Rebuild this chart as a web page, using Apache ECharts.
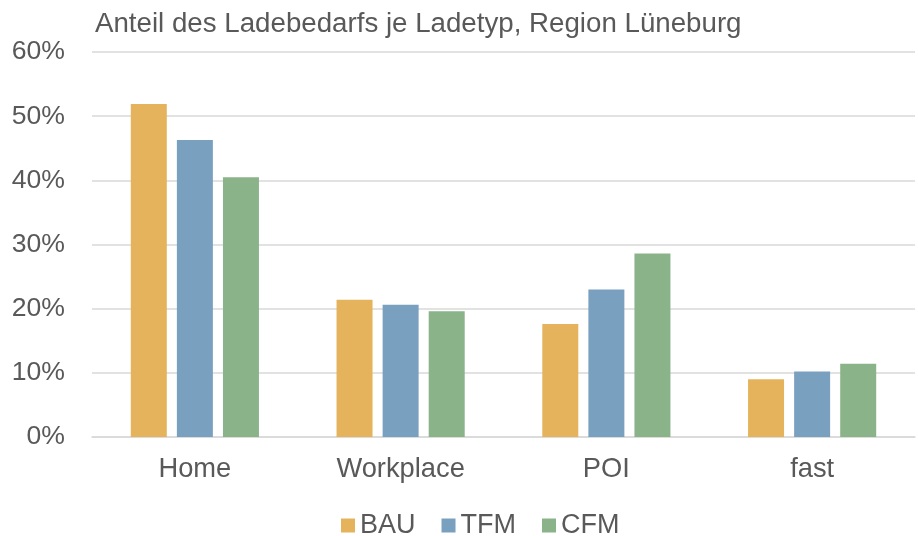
<!DOCTYPE html>
<html lang="de">
<head>
    <meta charset="UTF-8">
    <title>Ladebedarf</title>
    <script src="https://cdn.jsdelivr.net/npm/echarts@6/dist/echarts.min.js"></script>
    <style>
        html, body { margin: 0; padding: 0; background: #fff; }
        #chart { width: 918px; height: 536px; }
    </style>
</head>
<body>
<div id="chart"></div>
<script>
    // Daten (Anteile in %)
    var categories = ['Home', 'Workplace', 'POI', 'fast'];
    var bau = [51.9, 21.4, 17.6, 9.0];
    var tfm = [46.3, 20.6, 23.0, 10.2];
    var cfm = [40.5, 19.6, 28.6, 11.4];

    var textColor = '#595959';
    var font = 'Liberation Sans, Arial, sans-serif';

    var chart = echarts.init(document.getElementById('chart'));
    var option = {
        animation: false,
        color: ['#E5B35C', '#7AA0C0', '#8BB38A'],
        title: {
            text: 'Anteil des Ladebedarfs je Ladetyp, Region Lüneburg',
            left: 90,
            top: 5,
            textStyle: { color: textColor, fontSize: 27.7, fontWeight: 'normal', fontFamily: font }
        },
        legend: {
            top: 507,
            left: 336,
            itemWidth: 14,
            itemHeight: 14,
            itemGap: 26,
            icon: 'rect',
            textStyle: { color: textColor, fontSize: 27, fontFamily: font },
            data: ['BAU', 'TFM', 'CFM']
        },
        grid: { left: 92, right: 3, top: 52, bottom: 99 },
        xAxis: {
            type: 'category',
            data: categories,
            axisLine: { lineStyle: { color: '#d9d9d9', width: 1.5 } },
            axisTick: { show: false },
            axisLabel: { color: textColor, fontSize: 27.3, fontFamily: font, margin: 19 }
        },
        yAxis: {
            type: 'value',
            min: 0,
            max: 60,
            interval: 10,
            axisLine: { show: false },
            axisTick: { show: false },
            splitLine: { lineStyle: { color: '#d9d9d9', width: 1.5 } },
            axisLabel: {
                color: textColor, fontSize: 26.6, fontFamily: font, margin: 27,
                formatter: '{value}%'
            }
        },
        series: [
            { name: 'BAU', type: 'bar', data: bau, barWidth: 36, barGap: '28%', barCategoryGap: '38%' },
            { name: 'TFM', type: 'bar', data: tfm, barWidth: 36, barGap: '28%' },
            { name: 'CFM', type: 'bar', data: cfm, barWidth: 36, barGap: '28%' }
        ]
    };
    chart.setOption(option);
</script>
</body>
</html>
